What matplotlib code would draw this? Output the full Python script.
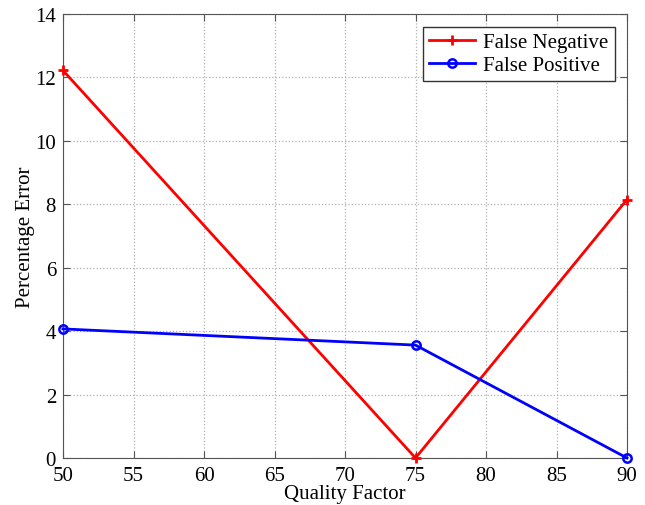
import matplotlib
matplotlib.use("Agg")
import matplotlib.pyplot as plt

quality = [50, 75, 90]
false_negative = [12.22, 0.0, 8.15]
false_positive = [4.07, 3.56, 0.0]

plt.rcParams['font.family'] = ['Liberation Serif', 'DejaVu Serif']

fig = plt.figure(figsize=(6.45, 5.06), dpi=100)
ax = fig.add_axes([63 / 645, 47 / 506, 564 / 645, 444 / 506])

ax.plot(quality, false_negative, color='red', lw=2, marker='+', ms=7, mew=2,
        label='False Negative', clip_on=False, zorder=3)
ax.plot(quality, false_positive, color='blue', lw=2, marker='o', ms=6, mew=1.8,
        mfc='none', label='False Positive', clip_on=False, zorder=3)

ax.set_xlim(50, 90)
ax.set_ylim(0, 14)
ax.set_xticks(range(50, 91, 5))
ax.set_yticks(range(0, 15, 2))
ax.grid(True, linestyle=':', color='#b0b0b0', lw=0.9)
ax.tick_params(direction='in', labelsize=15, length=5, color='#555555', top=True, right=True)
ax.tick_params(axis='x', pad=6)
ax.tick_params(axis='y', pad=5)
for s in ax.spines.values():
    s.set_color('#555555')
ax.set_xlabel('Quality Factor', fontsize=15, labelpad=-1)
ax.set_ylabel('Percentage Error', fontsize=15, labelpad=0)

leg = ax.legend(loc='upper right', fontsize=15, fancybox=False, framealpha=1,
                edgecolor='#333333', handlelength=2.2, borderpad=0.3,
                labelspacing=0.15, borderaxespad=0.6, handletextpad=0.4)
leg.get_frame().set_linewidth(1.0)

fig.savefig('out.png', dpi=100)
